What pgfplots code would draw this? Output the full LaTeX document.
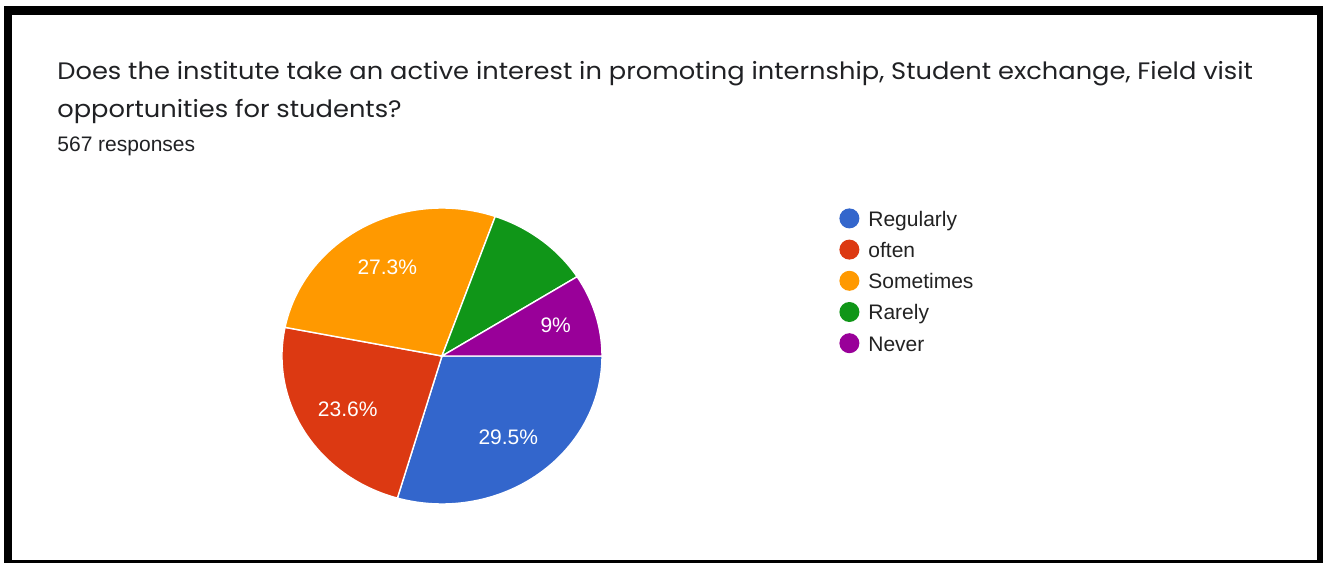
\documentclass[border=0pt]{standalone}
\usepackage{graphicx}
\usepackage{pgfplots}
\pgfplotsset{compat=1.18}
\usepackage{pgfplotstable}
\usepackage{fontspec}
\setmainfont{Liberation Sans}
\newfontfamily\titlefont{Poppins}
\definecolor{cBlue}{HTML}{3366CC}
\definecolor{cRed}{HTML}{DC3912}
\definecolor{cOrange}{HTML}{FF9900}
\definecolor{cGreen}{HTML}{109618}
\definecolor{cPurple}{HTML}{990099}
\definecolor{titlegray}{HTML}{202124}
\definecolor{leggray}{HTML}{222222}

% share of the 567 responses, in per cent
\pgfplotstableread{
name value lf
Regularly 29.5 0.69
often 23.6 0.69
Sometimes 27.3 0.69
Rarely 10.6 0
Never 9 0.74
}\piedata

\begin{document}
\begin{tikzpicture}
\pgfplotstablegetelem{0}{value}\of\piedata \let\vA\pgfplotsretval
\pgfplotstablegetelem{1}{value}\of\piedata \let\vB\pgfplotsretval
\pgfplotstablegetelem{2}{value}\of\piedata \let\vC\pgfplotsretval
\pgfplotstablegetelem{3}{value}\of\piedata \let\vD\pgfplotsretval
\pgfplotstablegetelem{4}{value}\of\piedata \let\vE\pgfplotsretval
\pgfplotstablegetelem{0}{lf}\of\piedata \let\fA\pgfplotsretval
\pgfplotstablegetelem{1}{lf}\of\piedata \let\fB\pgfplotsretval
\pgfplotstablegetelem{2}{lf}\of\piedata \let\fC\pgfplotsretval
\pgfplotstablegetelem{4}{lf}\of\piedata \let\fE\pgfplotsretval
\pgfmathsetmacro\aA{0}
\pgfmathsetmacro\aB{\aA-3.6*\vA}
\pgfmathsetmacro\aC{\aB-3.6*\vB}
\pgfmathsetmacro\aD{\aC-3.6*\vC}
\pgfmathsetmacro\aE{\aD-3.6*\vD}
\pgfmathsetmacro\aF{\aE-3.6*\vE}
\pgfmathsetmacro\mA{(\aA+\aB)/2}
\pgfmathsetmacro\mB{(\aB+\aC)/2}
\pgfmathsetmacro\mC{(\aC+\aD)/2}
\pgfmathsetmacro\mE{(\aE+\aF)/2}
\pgfmathsetmacro\rxA{\fA*80}\pgfmathsetmacro\ryA{\fA*74}
\pgfmathsetmacro\rxB{\fB*80}\pgfmathsetmacro\ryB{\fB*74}
\pgfmathsetmacro\rxC{\fC*80}\pgfmathsetmacro\ryC{\fC*74}
\pgfmathsetmacro\rxE{\fE*80}\pgfmathsetmacro\ryE{\fE*74}
\newcommand\slice[3]{\fill[#1, draw=white, line width=0.7pt] (axis cs:442,207) -- ++(#2:80pt and 74pt) arc[start angle=#2, end angle=#3, x radius=80pt, y radius=74pt] -- cycle;}
\begin{axis}[
  x=0.5pt, y=0.5pt,
  xmin=0, xmax=1323, ymin=0, ymax=563,
  hide axis, clip=false,
  legend image code/.code={\fill[#1, draw=none] (5pt,1.2pt) circle (5pt);},
  legend style={draw=none, fill=none, inner sep=0pt, column sep=4.5pt, row sep=4.4pt,
    font=\fontsize{10.5pt}{12pt}\selectfont\color{leggray},
    nodes={inner sep=0pt, text height=7.7pt, text depth=2.3pt},
    at={(axis cs:839,355)}, anchor=north west},
  legend cell align=left,
]
\addlegendimage{fill=cBlue}\addlegendentry{Regularly}
\addlegendimage{fill=cRed}\addlegendentry{often}
\addlegendimage{fill=cOrange}\addlegendentry{Sometimes}
\addlegendimage{fill=cGreen}\addlegendentry{Rarely}
\addlegendimage{fill=cPurple}\addlegendentry{Never}

\path (axis cs:0,0) rectangle (axis cs:1323,563);
\fill[black] (axis cs:4,0) rectangle (axis cs:1323,557);
\fill[white] (axis cs:12,3) rectangle (axis cs:1317,548);

\node[anchor=base west, inner sep=0pt, text=titlegray, font=\titlefont\fontsize{11.9pt}{14pt}\selectfont] at (axis cs:57,483) {\scalebox{1.08}[1]{Does the institute take an active interest in promoting internship, Student exchange, Field visit}};
\node[anchor=base west, inner sep=0pt, text=titlegray, font=\titlefont\fontsize{11.9pt}{14pt}\selectfont] at (axis cs:57,445) {\scalebox{1.08}[1]{opportunities for students?}};
\node[anchor=base west, inner sep=0pt, text=titlegray, font=\fontsize{10.5pt}{12pt}\selectfont] at (axis cs:57,411) {567 responses};

\slice{cBlue}{\aA}{\aB}
\slice{cRed}{\aB}{\aC}
\slice{cOrange}{\aC}{\aD}
\slice{cGreen}{\aD}{\aE}
\slice{cPurple}{\aE}{\aF}

\path (axis cs:442,207) ++(\mA:\rxA pt and \ryA pt) node[text=white, inner sep=0pt, text depth=0pt, font=\fontsize{10.5pt}{12pt}\selectfont] {\vA\%};
\path (axis cs:442,207) ++(\mB:\rxB pt and \ryB pt) node[text=white, inner sep=0pt, text depth=0pt, font=\fontsize{10.5pt}{12pt}\selectfont] {\vB\%};
\path (axis cs:442,207) ++(\mC:\rxC pt and \ryC pt) node[text=white, inner sep=0pt, text depth=0pt, font=\fontsize{10.5pt}{12pt}\selectfont] {\vC\%};
\path (axis cs:442,207) ++(\mE:\rxE pt and \ryE pt) node[text=white, inner sep=0pt, text depth=0pt, font=\fontsize{10.5pt}{12pt}\selectfont] {\vE\%};
\end{axis}
\end{tikzpicture}
\end{document}
